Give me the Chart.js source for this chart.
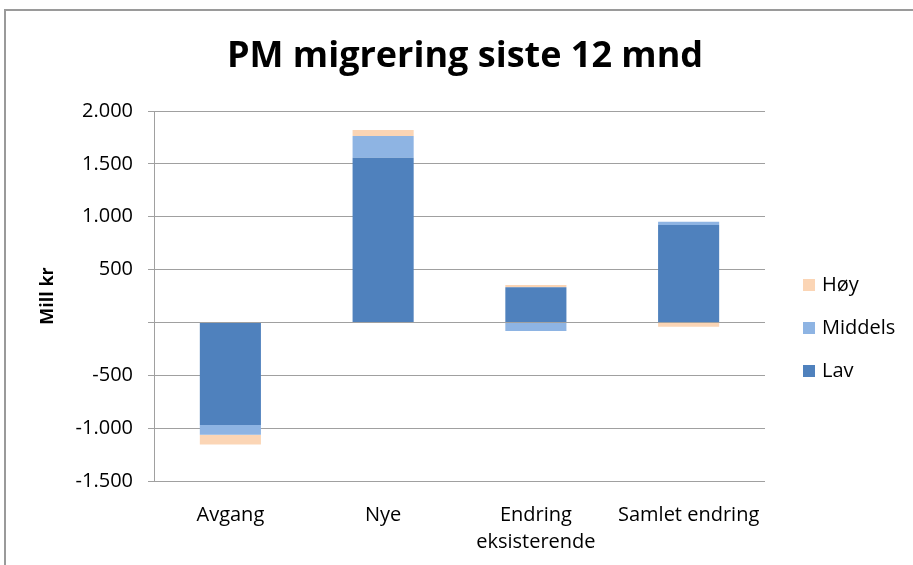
<!DOCTYPE html>
<html lang="no">
<head>
  <meta charset="UTF-8">
  <title>PM migrering siste 12 mnd</title>
  <script src="https://cdn.jsdelivr.net/npm/chart.js"></script>
  <style>
    html, body {
      margin: 0;
      padding: 0;
      background: #ffffff;
    }
    .wrap {
      position: relative;
      width: 913px;
      height: 565px;
      overflow: hidden;
    }
    /* frame of the chart object, only top and left edges show */
    .frame {
      position: absolute;
      left: 4px;
      top: 9px;
      width: 1000px;
      height: 700px;
      border-top: 2px solid #9a9a9a;
      border-left: 2px solid #9a9a9a;
    }
    canvas {
      position: absolute;
      left: 0;
      top: 0;
    }
  </style>
</head>
<body>
  <div class="wrap">
    <div class="frame"></div>
    <canvas id="chart" width="913" height="565"></canvas>
  </div>

  <script>
    // data (Mill kr)
    const categories = ['Avgang', 'Nye', ['Endring', 'eksisterende'], 'Samlet endring'];
    const lav = [-970, 1558, 332, 921];
    const middels = [-92, 205, -80, 32];
    const hoy = [-92, 57, 22, -40];
    const yTicks = [-1500, -1000, -500, 0, 500, 1000, 1500, 2000];
    const chartTitle = 'PM migrering siste 12 mnd';

    Chart.defaults.font.family = "'Open Sans', sans-serif";
    Chart.defaults.color = '#000';

    function fmt(v) {
      if (v === 0) return '';
      const s = Math.abs(v).toString().replace(/\B(?=(\d{3})+(?!\d))/g, '.');
      return (v < 0 ? '-' : '') + s;
    }

    // title centred on the whole object, legend on the right (Høy on top)
    const decorations = {
      id: 'decorations',
      afterDraw(chart) {
        const ctx = chart.ctx;
        const area = chart.chartArea;
        ctx.save();

        ctx.font = "bold 36px 'Open Sans', sans-serif";
        ctx.textAlign = 'center';
        ctx.textBaseline = 'middle';
        ctx.fillStyle = '#000';
        ctx.fillText(chartTitle, 465, 57);

        const sets = chart.data.datasets.slice().reverse();
        const x = area.right + 38;
        const y0 = 285;
        const gap = 43;
        ctx.font = "20px 'Open Sans', sans-serif";
        ctx.textAlign = 'left';
        sets.forEach((ds, i) => {
          const y = y0 + i * gap;
          ctx.fillStyle = ds.backgroundColor;
          ctx.fillRect(x, y - 6, 12, 12);
          ctx.fillStyle = '#000';
          ctx.fillText(ds.label, x + 19, y);
        });
        ctx.restore();
      }
    };

    new Chart(document.getElementById('chart'), {
      type: 'bar',
      data: {
        labels: categories,
        datasets: [
          { label: 'Lav', data: lav, backgroundColor: '#4F81BD' },
          { label: 'Middels', data: middels, backgroundColor: '#8EB4E3' },
          { label: 'Høy', data: hoy, backgroundColor: '#FBD5B5' }
        ]
      },
      options: {
        responsive: false,
        animation: false,
        layout: { padding: { left: 0, right: 148, top: 111, bottom: 0 } },
        datasets: {
          bar: { barPercentage: 0.4, categoryPercentage: 1.0 }
        },
        plugins: {
          legend: { display: false },
          tooltip: { enabled: false },
          title: { display: false }
        },
        scales: {
          x: {
            stacked: true,
            grid: { display: false },
            border: { display: false },
            ticks: {
              padding: 13,
              maxRotation: 0,
              autoSkip: false,
              font: { size: 20, lineHeight: 1.35 }
            },
            afterFit(scale) { scale.height = 84; }
          },
          y: {
            stacked: true,
            min: -1500,
            max: 2000,
            afterBuildTicks(scale) {
              scale.ticks = yTicks.map(v => ({ value: v }));
            },
            grid: {
              color: '#a0a0a0',
              lineWidth: 1,
              drawTicks: true,
              tickLength: 6
            },
            border: { display: true, color: '#a0a0a0', width: 1 },
            ticks: {
              padding: 15,
              font: { size: 20 },
              callback: v => fmt(v)
            },
            title: {
              display: true,
              text: 'Mill kr',
              font: { size: 18, weight: 'bold' },
              padding: { top: 37, bottom: 0 }
            },
            afterFit(scale) { scale.width = 154; }
          }
        }
      },
      plugins: [decorations]
    });
  </script>
</body>
</html>
